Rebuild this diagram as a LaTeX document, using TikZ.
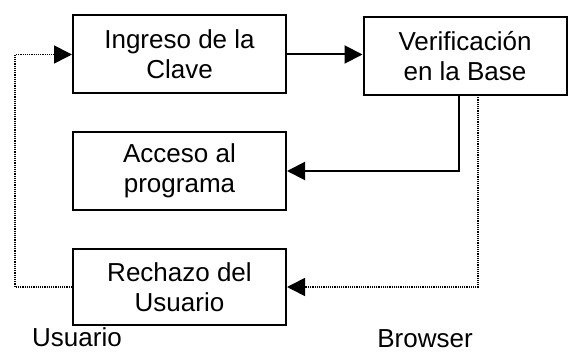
\documentclass[tikz,border=0pt]{standalone}
\usepackage{fontspec}
\setmainfont{Liberation Sans}
\usetikzlibrary{arrows.meta}
\begin{document}
\begin{tikzpicture}[x=1pt,y=-1pt,
  box/.style={draw,line width=2pt,minimum width=213pt,minimum height=78pt,align=center,inner sep=0pt,font=\fontsize{26}{30}\selectfont},
  arr/.style={line width=2pt,-{Triangle[length=18pt,width=18pt]}},
  darr/.style={line width=1.6pt,dash pattern=on 1.2pt off 1pt,-{Triangle[length=18pt,width=18pt]}},
  lbl/.style={font=\fontsize{26}{30}\selectfont,inner sep=0pt}]
\useasboundingbox (0,0) rectangle (568,352);
\node[box] (b1) at (179.5,54.5) {Ingreso de la\\Clave};
\node[box,minimum width=203pt] (b2) at (465,56) {Verificación\\en la Base};
\node[box] (b3) at (179.5,171) {Acceso al\\programa};
\node[box,minimum height=76pt] (b4) at (179.5,287) {Rechazo del\\Usuario};
\coordinate (s1) at (459,95);
\coordinate (s2) at (478,95);
\coordinate (d1) at (15,287);
\coordinate (d2) at (15,54.5);
\draw[arr] (b1.east) -- (b1.east -| b2.west);
\draw[arr] (s1) |- (b3.east);
\draw[darr] (s2) |- (b4.east);
\draw[darr] (b4.west) -- (d1) -- (d2) -- (b1.west);
\node[lbl] (u) at (77,337) {Usuario};
\node[lbl] (br) at (425,339) {Browser};
\end{tikzpicture}
\end{document}
